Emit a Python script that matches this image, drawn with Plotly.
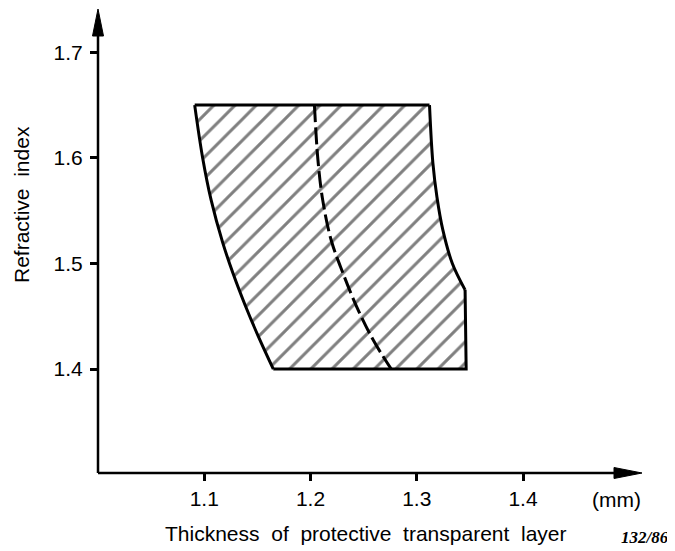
import plotly.graph_objects as go

# Region boundary (thickness in mm vs refractive index)
left_n = [1.40, 1.43, 1.46, 1.49, 1.52, 1.56, 1.60, 1.65]
left_t = [1.165, 1.1513, 1.1387, 1.1273, 1.1173, 1.1065, 1.0985, 1.091]
right_n = [1.65, 1.595, 1.563, 1.532, 1.50, 1.475, 1.40]
right_t = [1.312, 1.3152, 1.319, 1.3245, 1.3335, 1.3455, 1.3465]
# dashed middle curve
mid_n = [1.65, 1.598, 1.560, 1.522, 1.491, 1.459, 1.427, 1.40]
mid_t = [1.2037, 1.207, 1.2115, 1.2195, 1.2305, 1.2435, 1.2593, 1.276]

x_ticks = [1.1, 1.2, 1.3, 1.4]
y_ticks = [1.4, 1.5, 1.6, 1.7]

poly_x = left_t + right_t + [left_t[0]]
poly_y = left_n + right_n + [left_n[0]]

FONT = "Liberation Sans, Arial, sans-serif"
BW = 3

fig = go.Figure()
# hatched fill (no outline)
fig.add_trace(go.Scatter(
    x=poly_x, y=poly_y, mode="lines", fill="toself",
    line=dict(color="rgba(0,0,0,0)", width=0),
    fillcolor="white",
    fillpattern=dict(shape="/", size=15, solidity=0.2, fgcolor="black", bgcolor="white"),
    hoverinfo="skip", showlegend=False,
))
# outline pieces
fig.add_trace(go.Scatter(x=left_t, y=left_n, mode="lines",
                         line=dict(color="black", width=BW, shape="spline", smoothing=1.0),
                         hoverinfo="skip", showlegend=False))
fig.add_trace(go.Scatter(x=right_t[:-1], y=right_n[:-1], mode="lines",
                         line=dict(color="black", width=BW, shape="spline", smoothing=1.0),
                         hoverinfo="skip", showlegend=False))
fig.add_trace(go.Scatter(x=right_t[-2:] + [left_t[0]], y=right_n[-2:] + [left_n[0]], mode="lines",
                         line=dict(color="black", width=BW),
                         hoverinfo="skip", showlegend=False))
fig.add_trace(go.Scatter(x=[left_t[-1], right_t[0]], y=[left_n[-1], right_n[0]], mode="lines",
                         line=dict(color="black", width=BW),
                         hoverinfo="skip", showlegend=False))
fig.add_trace(go.Scatter(
    x=mid_t, y=mid_n, mode="lines",
    line=dict(color="black", width=3, dash="17px,5px", shape="spline", smoothing=1.0),
    hoverinfo="skip", showlegend=False,
))

OFF = 8  # page body margin
W, H = 675 - OFF, 551 - OFF
ml, mr, mt, mb = 98 - OFF, 675 - 642, 9 - OFF, 551 - 473
pw = W - ml - mr
ph = H - mt - mb

fig.update_layout(
    width=W, height=H,
    margin=dict(l=ml, r=mr, t=mt, b=mb, pad=0),
    paper_bgcolor="white", plot_bgcolor="white",
    font=dict(family=FONT, size=21, color="black"),
    xaxis=dict(range=[1.0, 1.512], tickvals=x_ticks, ticktext=[f"{v:.1f}" for v in x_ticks],
               showgrid=False, zeroline=False, showline=False,
               ticks="outside", ticklen=7, tickwidth=2.5, tickcolor="black",
               tickfont=dict(size=21), fixedrange=True),
    yaxis=dict(range=[1.3016, 1.741], tickvals=y_ticks, ticktext=[f"{v:.1f}" for v in y_ticks],
               showgrid=False, zeroline=False, showline=False,
               ticks="outside", ticklen=7, tickwidth=2.5, tickcolor="black",
               tickfont=dict(size=21), ticklabelstandoff=3, fixedrange=True),
)

# axis lines with arrowheads
fig.add_shape(type="line", xref="paper", yref="paper", x0=0, y0=0, x1=1 - 20 / pw, y1=0,
              line=dict(color="black", width=2.5))
fig.add_shape(type="line", xref="paper", yref="paper", x0=0, y0=0, x1=0, y1=1 - 20 / ph,
              line=dict(color="black", width=2.5))
fig.add_shape(type="path", xref="paper", yref="paper", xsizemode="pixel", ysizemode="pixel",
              xanchor=1, yanchor=0, path="M0,0 L-28,5.5 L-28,-5.5 Z",
              fillcolor="black", line=dict(color="black", width=1))
fig.add_shape(type="path", xref="paper", yref="paper", xsizemode="pixel", ysizemode="pixel",
              xanchor=0, yanchor=1, path="M0,0 L-5.5,-27 L5.5,-27 Z",
              fillcolor="black", line=dict(color="black", width=1))

def px(xp):
    return (xp - OFF - ml) / pw

def py(yp):
    return (H - mb - (yp - OFF)) / ph

fig.add_annotation(text="Thickness \u00a0of \u00a0protective \u00a0transparent \u00a0layer",
                   xref="paper", yref="paper", x=px(366), y=py(533), showarrow=False,
                   xanchor="center", yanchor="middle", font=dict(size=21))
fig.add_annotation(text="Refractive \u00a0index", textangle=-90,
                   xref="paper", yref="paper", x=px(21), y=py(205), showarrow=False,
                   xanchor="center", yanchor="middle", font=dict(size=21))
fig.add_annotation(text="(mm)", xref="paper", yref="paper", x=px(616), y=py(499),
                   showarrow=False, xanchor="center", yanchor="middle", font=dict(size=21))
fig.add_annotation(text="132/86", xref="paper", yref="paper", x=px(645), y=py(537),
                   showarrow=False, xanchor="center", yanchor="middle",
                   font=dict(size=17, family="Liberation Serif, Times New Roman, serif",
                             style="italic", weight="bold"))

fig.write_html("out.html")
